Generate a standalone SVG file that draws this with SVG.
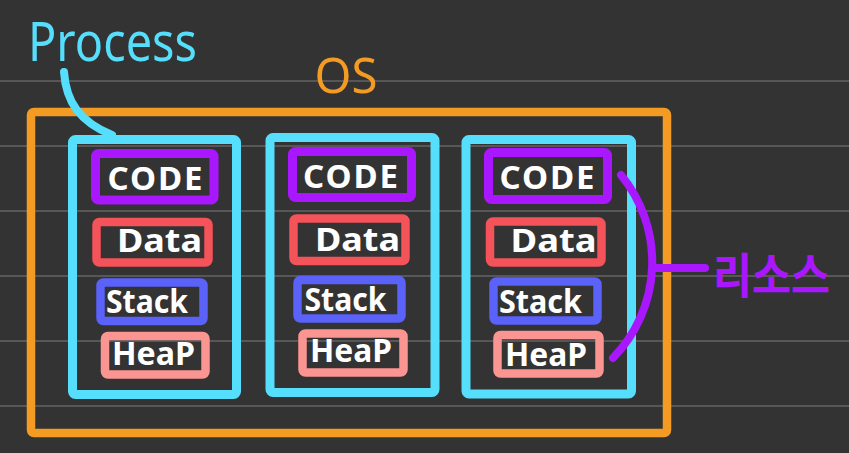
<svg xmlns="http://www.w3.org/2000/svg" width="849" height="453" viewBox="0 0 849 453">
<style>
.rule{stroke:#575757;stroke-width:2}
.os{fill:none;stroke:#F49B23;stroke-width:8.5}
.proc{fill:none;stroke:#56DFFC;stroke-width:9}
.code{fill:none;stroke:#A917FF;stroke-width:9}
.data{fill:none;stroke:#F5535A;stroke-width:8.5}
.stack{fill:none;stroke:#5A62FA;stroke-width:8.5}
.heap{fill:none;stroke:#FB9592;stroke-width:8.5}
.t{fill:#FFFFFF;font-family:"Noto Sans","Liberation Sans",sans-serif;font-weight:700;text-anchor:middle}
.c{font-size:33px}
.s{font-size:32px}
.d{font-size:33px}
.lbl{font-family:"Noto Sans","Liberation Sans",sans-serif}
.conn{fill:none;stroke-linecap:round;stroke-width:8}
</style>
<rect width="849" height="453" fill="#333333"/>
<g id="rules">
<line class="rule" x1="0" y1="81" x2="849" y2="81"/>
<line class="rule" x1="0" y1="146" x2="849" y2="146"/>
<line class="rule" x1="0" y1="211" x2="849" y2="211"/>
<line class="rule" x1="0" y1="276" x2="849" y2="276"/>
<line class="rule" x1="0" y1="341" x2="849" y2="341"/>
<line class="rule" x1="0" y1="406" x2="849" y2="406"/>
</g>
<g id="os">
<rect class="os" x="31" y="112" width="636" height="321" rx="3"/>
<text class="lbl" x="346" y="93" font-size="50" fill="#F49B23" text-anchor="middle" textLength="63" lengthAdjust="spacingAndGlyphs">OS</text>
</g>
<g id="process1">
<rect class="proc" x="72.5" y="139.5" width="164" height="255" rx="3"/>
<g id="p1-code"><rect class="code" x="95.5" y="153.5" width="118.5" height="46.5" rx="3"/><text class="t c" x="155" y="190" textLength="95" lengthAdjust="spacing">CODE</text></g>
<g id="p1-data"><rect class="data" x="96.5" y="222" width="112" height="40.5" rx="3"/><text class="t d" x="159.5" y="252" textLength="85" lengthAdjust="spacingAndGlyphs">Data</text></g>
<g id="p1-stack"><rect class="stack" x="100.5" y="282.5" width="103" height="38.5" rx="3"/><text class="t s" x="147" y="313" textLength="82" lengthAdjust="spacingAndGlyphs">Stack</text></g>
<g id="p1-heap"><rect class="heap" x="105" y="336" width="100.5" height="38.5" rx="3"/><text class="t s" x="153.5" y="365" textLength="83" lengthAdjust="spacingAndGlyphs">HeaP</text></g>
</g>
<g id="process2">
<rect class="proc" x="270" y="137.5" width="165" height="255" rx="3"/>
<g id="p2-code"><rect class="code" x="292.5" y="151.5" width="119" height="46" rx="3"/><text class="t c" x="350.5" y="188" textLength="95" lengthAdjust="spacing">CODE</text></g>
<g id="p2-data"><rect class="data" x="293.5" y="218.5" width="112" height="42.5" rx="3"/><text class="t d" x="357.5" y="251" textLength="85" lengthAdjust="spacingAndGlyphs">Data</text></g>
<g id="p2-stack"><rect class="stack" x="297.5" y="280" width="104" height="38.5" rx="3"/><text class="t s" x="345.5" y="311" textLength="82" lengthAdjust="spacingAndGlyphs">Stack</text></g>
<g id="p2-heap"><rect class="heap" x="302.5" y="333.5" width="101" height="39" rx="3"/><text class="t s" x="351" y="362" textLength="82" lengthAdjust="spacingAndGlyphs">HeaP</text></g>
</g>
<g id="process3">
<rect class="proc" x="466" y="139.5" width="165.5" height="254.5" rx="3"/>
<g id="p3-code"><rect class="code" x="488.5" y="152.5" width="119" height="47" rx="3"/><text class="t c" x="547" y="189" textLength="95" lengthAdjust="spacing">CODE</text></g>
<g id="p3-data"><rect class="data" x="490" y="221.5" width="111.5" height="41" rx="3"/><text class="t d" x="553.5" y="252" textLength="86" lengthAdjust="spacingAndGlyphs">Data</text></g>
<g id="p3-stack"><rect class="stack" x="493.5" y="281.5" width="104" height="39" rx="3"/><text class="t s" x="540.5" y="313" textLength="83" lengthAdjust="spacingAndGlyphs">Stack</text></g>
<g id="p3-heap"><rect class="heap" x="497.5" y="335" width="102" height="38.5" rx="3"/><text class="t s" x="546" y="366" textLength="82" lengthAdjust="spacingAndGlyphs">HeaP</text></g>
</g>
<g id="process-label">
<text class="lbl" x="28" y="61" font-size="54" fill="#56DFFC" textLength="169" lengthAdjust="spacingAndGlyphs">Process</text>
</g>
<g id="resource-label">
<text x="713" y="293" font-size="48" font-weight="700" fill="#A917FF" font-family="'Noto Sans CJK KR',sans-serif" textLength="117" lengthAdjust="spacingAndGlyphs">리소스</text>
</g>
<g id="connectors">
<path class="conn" stroke="#56DFFC" stroke-width="9" d="M64,72 C66,102 80,122 112,135"/>
<path class="conn" stroke="#A917FF" d="M621,175 A137,137 0 0 1 613,358"/>
<line class="conn" stroke="#A917FF" x1="653" y1="268" x2="705" y2="268"/>
</g>
</svg>
